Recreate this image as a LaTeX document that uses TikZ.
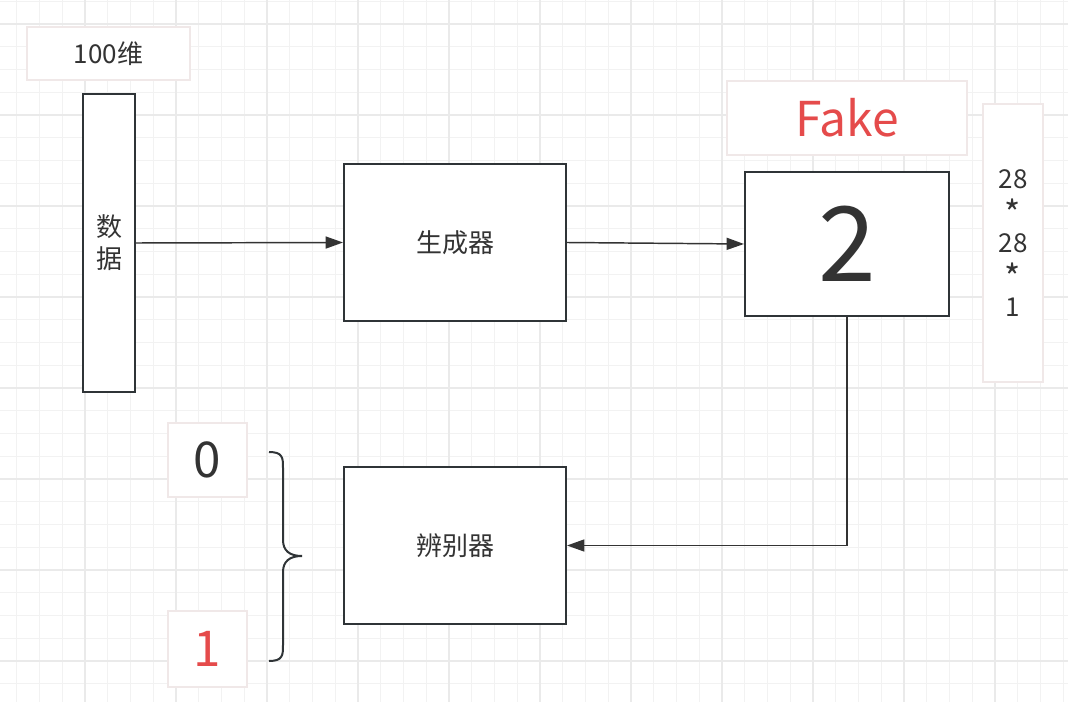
\documentclass[tikz,border=0pt]{standalone}
\usepackage{fontspec}
\setmainfont{Noto Sans CJK SC}
\usepackage{tikz}
\usetikzlibrary{arrows.meta,positioning}

\definecolor{ink}{HTML}{333333}
\definecolor{edge}{HTML}{2F3437}
\definecolor{fakered}{HTML}{E54B4B}
\definecolor{faint}{HTML}{F0E8E8}
\definecolor{gridminor}{HTML}{F2F2F2}
\definecolor{gridmajor}{HTML}{EAEAEA}
\newcommand{\bigstar}{\raisebox{-0.22em}{\fontsize{26pt}{24pt}\selectfont*}}

\begin{document}
\begin{tikzpicture}[
    x=0.75pt, y=-0.75pt,
    thin grid/.style={draw=gridminor, line width=0.75pt},
    thick grid/.style={draw=gridmajor, line width=1.3pt},
    block/.style={rectangle, draw=edge, line width=1.5pt, fill=white, align=center, text=ink, font=\fontsize{19.5pt}{24pt}\selectfont},
    tag/.style={rectangle, draw=faint, line width=1.5pt, fill=white, align=center, text=ink, font=\fontsize{19.5pt}{24pt}\selectfont},
    arrow/.style={-{Triangle[length=13pt, width=9pt]}, draw=ink, line width=1.1pt}
]
\useasboundingbox[fill=white] (0,0) rectangle (1068,702);
% background grid
\foreach \k in {0,...,47} \draw[thin grid] ({-6+\k*22.75},0) -- ({-6+\k*22.75},702);
\foreach \k in {0,...,31} \draw[thin grid] (0,{1.25+\k*22.75}) -- (1068,{1.25+\k*22.75});
\foreach \k in {0,...,12} \draw[thick grid] ({-6+\k*91},0) -- ({-6+\k*91},702);
\foreach \k in {0,...,8} \draw[thick grid] (0,{-67+\k*91}) -- (1068,{-67+\k*91});

\node[tag, minimum width=122.25pt, minimum height=39.75pt] (dim) at (108.5,53.5) {100维};
\node[block, minimum width=39pt, minimum height=223.5pt] (data) at (109,243) {数\\据};
\node[block, minimum width=166.5pt, minimum height=117.75pt] (gen) at (455,242.5) {生成器};
\node[block, minimum width=153pt, minimum height=108pt, font=\fontsize{78pt}{80pt}\selectfont] (img) at (847,244) {2};
\node[tag, minimum width=180pt, minimum height=55.5pt, text=fakered, font=\fontsize{36pt}{40pt}\selectfont] (fake) at (847,118) {Fake};
\node[tag, minimum width=45pt, minimum height=208.5pt] (shape) at (1013,243) {28\\\bigstar\\28\\\bigstar\\1};
\node[block, minimum width=166.5pt, minimum height=117.75pt] (disc) at (455,545.5) {辨别器};
\node[tag, minimum width=59.25pt, minimum height=55.5pt, font=\fontsize{37pt}{40pt}\selectfont] (zero) at (207.5,460) {0};
\node[tag, minimum width=59.25pt, minimum height=57pt, text=fakered, font=\fontsize{37pt}{40pt}\selectfont] (one) at (207.5,649) {1};

\draw[arrow] (data.east) -- (gen.west);
\draw[arrow] (gen.east) -- (img.west);
\draw[arrow] (img.south) |- (disc.east);

% brace for the two labels
\coordinate (btop) at (269,452);
\coordinate (bbot) at (269,661);
\draw[draw=edge, line width=1.5pt] (btop) .. controls (283,452) and (283,458) .. (283,468)
    -- (283,540) .. controls (283,551) and (290,556) .. (302,556)
    .. controls (290,556) and (283,561) .. (283,572)
    -- (283,645) .. controls (283,655) and (283,661) .. (bbot);
\end{tikzpicture}
\end{document}
